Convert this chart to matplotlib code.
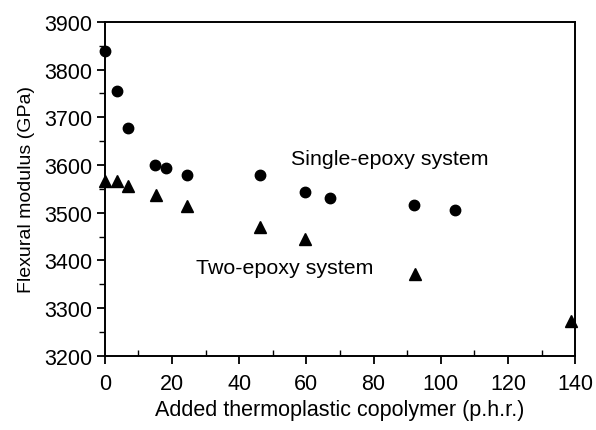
import matplotlib
matplotlib.use("Agg")
import matplotlib.pyplot as plt
from matplotlib.ticker import MultipleLocator

plt.rcParams['font.family'] = ['Liberation Sans', 'DejaVu Sans']

single_x = [0, 3.7, 6.9, 14.9, 18.1, 24.5, 46.2, 59.6, 67.1, 92.1, 104.3]
single_y = [3838, 3756, 3678, 3599, 3593, 3580, 3580, 3544, 3531, 3517, 3506]

two_x = [0, 3.7, 6.9, 15.2, 24.5, 46.2, 59.6, 92.3, 138.8]
two_y = [3567, 3567, 3555, 3537, 3515, 3471, 3445, 3372, 3274]

x_ticks = [0, 20, 40, 60, 80, 100, 120, 140]
y_ticks = [3200, 3300, 3400, 3500, 3600, 3700, 3800, 3900]

fig = plt.figure(figsize=(5.96, 4.31), dpi=100)
ax = fig.add_axes([0.176, 0.172, 0.789, 0.775])

ax.plot(single_x, single_y, 'o', color='black', ms=7.5, clip_on=False, zorder=3)
ax.plot(two_x, two_y, '^', color='black', ms=8, clip_on=False, zorder=3)

ax.set_xlim(0, 140)
ax.set_ylim(3200, 3900)
ax.set_xticks(x_ticks)
ax.set_yticks(y_ticks)
ax.xaxis.set_minor_locator(MultipleLocator(10))
ax.yaxis.set_minor_locator(MultipleLocator(50))
ax.tick_params(axis='both', which='major', direction='out', length=6, width=1.3,
               labelsize=15.5, top=False, right=False)
ax.tick_params(axis='x', which='major', pad=6)
ax.tick_params(axis='y', which='major', pad=3)
ax.tick_params(axis='x', which='minor', direction='in', length=4, width=1.0)
ax.tick_params(axis='y', which='minor', direction='out', length=4, width=1.0)

for s in ax.spines.values():
    s.set_linewidth(1.4)

ax.set_xlabel('Added thermoplastic copolymer (p.h.r.)', fontsize=15.5, labelpad=4)
ax.set_ylabel('Flexural modulus (GPa)', fontsize=14, labelpad=7)

ax.text(55.3, 3613, 'Single-epoxy system', fontsize=15.4, va='center', ha='left')
ax.text(27.1, 3386, 'Two-epoxy system', fontsize=15.4, va='center', ha='left')

fig.savefig('out.png', dpi=100)
